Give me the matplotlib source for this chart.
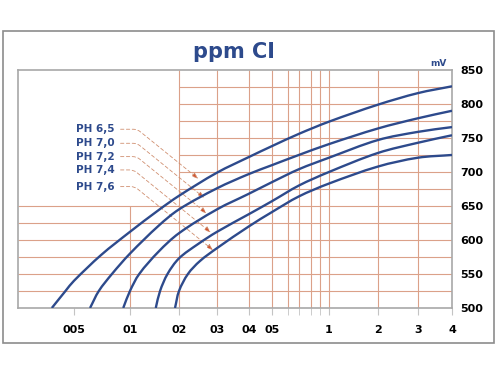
import numpy as np
import matplotlib
matplotlib.use('Agg')
import matplotlib.pyplot as plt
from matplotlib.patches import Rectangle, PathPatch
from matplotlib.path import Path

# x axis of the original sheet: roughly logarithmic, but not exactly
scale_vals = [0.025, 0.05, 0.1, 0.2, 0.3, 0.4, 0.5, 0.6, 0.7, 0.8, 0.9, 1, 2, 3, 4]
scale_frac = [0, 0.129, 0.258, 0.371, 0.4585, 0.532, 0.585, 0.622, 0.647, 0.675, 0.696, 0.7166, 0.8295, 0.9217, 1]

xtick_vals = [0.05, 0.1, 0.2, 0.3, 0.4, 0.5, 1, 2, 3, 4]
xtick_labels = ['005', '01', '02', '03', '04', '05', '1', '2', '3', '4']
xminor_vals = [0.6, 0.7, 0.8, 0.9]
yticks = [500, 550, 600, 650, 700, 750, 800, 850]

# grid of the sheet
vgrid_full = [0.2, 0.3, 0.4, 0.5, 0.6, 0.7, 0.8, 0.9, 1, 2, 3]
vgrid_low = [0.1]
hgrid_low = [525, 550, 575, 600, 625, 650]
hgrid_high = [675, 700, 725, 750, 775, 800, 825]

# curves (ppm Cl -> mV)
x_65 = [0.038, 0.045, 0.05, 0.07, 0.1, 0.15, 0.2, 0.3, 0.4, 0.5, 0.7, 1, 2, 3, 4]
mv_65 = [500, 525, 540, 578, 612, 644, 665, 699, 722, 738, 756, 774, 799, 816, 826]
x_70 = [0.061, 0.068, 0.08, 0.1, 0.15, 0.2, 0.3, 0.4, 0.5, 0.7, 1, 2, 3, 4]
mv_70 = [500, 525, 550, 580, 621, 645, 676, 697, 710, 725, 741, 764, 779, 790]
x_72 = [0.092, 0.1, 0.114, 0.15, 0.2, 0.3, 0.4, 0.5, 0.7, 1, 2, 3, 4]
mv_72 = [500, 525, 550, 583, 610, 645, 668, 685, 704, 721, 747, 759, 766]
x_74 = [0.144, 0.153, 0.17, 0.2, 0.245, 0.3, 0.4, 0.5, 0.7, 1, 2, 3, 4]
mv_74 = [500, 525, 550, 573, 594, 612, 638, 657, 680, 700, 728, 743, 754]
x_76 = [0.189, 0.2, 0.22, 0.25, 0.3, 0.4, 0.5, 0.7, 1, 2, 3, 4]
mv_76 = [500, 525, 550, 569, 588, 620, 641, 664, 683, 708, 721, 725]

ph_labels = ['PH 6,5', 'PH 7,0', 'PH 7,2', 'PH 7,4', 'PH 7,6']
tip_x = [0.246, 0.262, 0.269, 0.281, 0.288]
tip_mv = [690, 662, 639, 611, 585]
label_yfrac = [0.751, 0.692, 0.636, 0.580, 0.510]

navy = '#2d4a8c'
gridc = '#dba189'

log_vals = np.log10(scale_vals)


def fwd(x):
    x = np.clip(np.asarray(x, dtype=float), 1e-6, None)
    return np.interp(np.log10(x), log_vals, scale_frac)


def inv(f):
    return 10 ** np.interp(f, scale_frac, log_vals)


def smooth_curve(xs, ys, wpx, hpx, y0, y1):
    # smooth bezier through the read points, tangents taken in screen proportions
    P = np.column_stack([fwd(xs) * wpx, (np.asarray(ys, float) - y0) / (y1 - y0) * hpx])
    n = len(P)
    dirs = np.zeros_like(P)
    for i in range(n):
        a = P[max(i - 1, 0)]
        b = P[min(i + 1, n - 1)]
        v = b - a
        dirs[i] = v / np.hypot(*v)
    verts = [P[0]]
    codes = [Path.MOVETO]
    for i in range(n - 1):
        L = np.hypot(*(P[i + 1] - P[i])) / 3
        verts += [P[i] + dirs[i] * L, P[i + 1] - dirs[i + 1] * L, P[i + 1]]
        codes += [Path.CURVE4] * 3
    verts = np.array(verts)
    xd = inv(np.clip(verts[:, 0] / wpx, 0, 1))
    yd = verts[:, 1] / hpx * (y1 - y0) + y0
    return Path(np.column_stack([xd, yd]), codes)


fig = plt.figure(figsize=(5, 3.75), dpi=100)
fig.patches.append(Rectangle((0.006, 0.0853), 0.982, 0.832, transform=fig.transFigure,
                             fill=False, ec='#8c8c8c', lw=1.2))
ax = fig.add_axes([0.036, 0.1787, 0.868, 0.6347])
ax.set_xscale('function', functions=(fwd, inv))
ax.set_xlim(0.025, 4)
ax.set_ylim(500, 850)

ax.vlines(vgrid_full, 500, 850, color=gridc, lw=0.8, zorder=1)
ax.vlines(vgrid_low, 500, 650, color=gridc, lw=0.8, zorder=1)
ax.hlines(hgrid_low, 0.025, 4, color=gridc, lw=0.8, zorder=1)
ax.hlines(hgrid_high, 0.2, 4, color=gridc, lw=0.8, zorder=1)

pos = ax.get_position()
wpx = pos.width * fig.get_figwidth()
hpx = pos.height * fig.get_figheight()
for xs, ys in [(x_65, mv_65), (x_70, mv_70), (x_72, mv_72), (x_74, mv_74), (x_76, mv_76)]:
    ax.add_patch(PathPatch(smooth_curve(xs, ys, wpx, hpx, 500, 850), fill=False,
                           ec=navy, lw=1.7, zorder=3, transform=ax.transData))

for lab, tx, ty, yf in zip(ph_labels, tip_x, tip_mv, label_yfrac):
    ax.annotate(lab, xy=(tx, ty), xycoords='data', xytext=(0.2235, yf),
                textcoords='axes fraction', ha='right', va='center',
                fontsize=7.5, fontweight='bold', color=navy,
                arrowprops=dict(arrowstyle='-|>,head_length=0.5,head_width=0.18',
                                connectionstyle='angle,angleA=0,angleB=-39,rad=4',
                                relpos=(1, 0.5), ls=(0, (4, 3)), lw=0.6,
                                ec='#d08f70', fc='#d2502a', shrinkB=0),
                zorder=2)

ax.set_xticks(xtick_vals)
ax.set_xticklabels(xtick_labels, fontsize=8, fontweight='bold')
ax.set_xticks(xminor_vals, minor=True)
ax.xaxis.set_minor_formatter(plt.NullFormatter())
ax.tick_params(axis='x', which='both', length=5, color='#c4c4c4', pad=7)

ax.yaxis.tick_right()
ax.set_yticks(yticks)
ax.set_yticklabels([str(v) for v in yticks], fontsize=8, fontweight='bold')
ax.tick_params(axis='y', length=0, pad=6)

for s in ax.spines.values():
    s.set_color('#a8a8a8')
    s.set_linewidth(1.2)

fig.text(0.468, 0.861, 'ppm CI', ha='center', va='center', fontsize=15,
         fontweight='bold', color=navy)
fig.text(0.876, 0.832, 'mV', ha='center', va='center', fontsize=6.5,
         fontweight='bold', color=navy)

fig.savefig('out.png', dpi=100)
